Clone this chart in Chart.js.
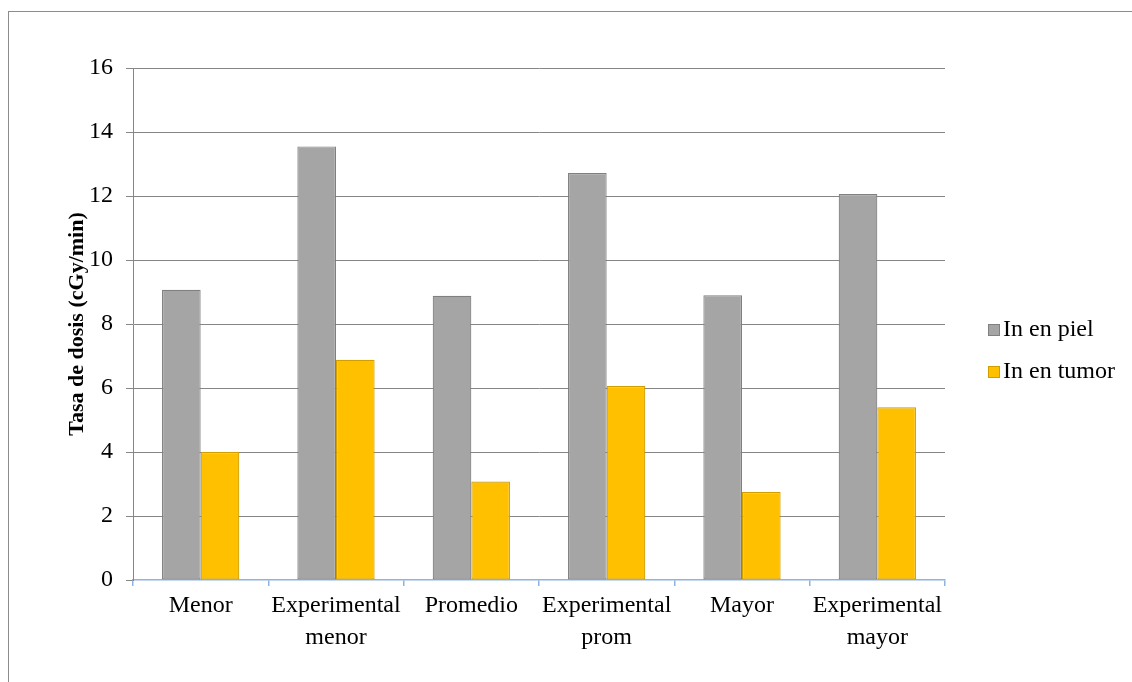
<!DOCTYPE html>
<html lang="es">
<head>
    <meta charset="UTF-8" />
    <script src="https://cdn.jsdelivr.net/npm/chart.js"></script>
    <title>Tasa de dosis</title>
    <style>
        body { margin: 0; background: #fff; }
        #marco {
            position: absolute; left: 0; top: 0; width: 1132px; height: 682px;
        }
        #borde {
            position: absolute; left: 8px; top: 11px; right: 0; bottom: 0;
            border-left: 1.5px solid #8c8c8c; border-top: 1.5px solid #8c8c8c;
        }
    </style>
</head>
<body>
    <div id="marco">
        <div id="borde"></div>
        <canvas id="graficaDosis"></canvas>
    </div>

    <script>
        const categorias = [
            'Menor',
            ['Experimental', 'menor'],
            'Promedio',
            ['Experimental', 'prom'],
            'Mayor',
            ['Experimental', 'mayor']
        ];
        const inEnPiel = [9.07, 13.55, 8.88, 12.72, 8.90, 12.06];
        const inEnTumor = [4.0, 6.88, 3.08, 6.06, 2.75, 5.40];
        const ejeY = { min: 0, max: 16, paso: 2 };

        const fuente = "'Liberation Serif', 'Times New Roman', serif";
        const gris = '#868686';
        const azul = '#8db3e2';

        // leyenda a la derecha, dibujada a mano para fijar su posición
        const leyendaDerecha = {
            id: 'leyendaDerecha',
            afterDraw(chart) {
                const c = chart.ctx;
                c.save();
                c.font = `24px ${fuente}`;
                c.textBaseline = 'middle';
                chart.data.datasets.forEach((ds, i) => {
                    const y = 330 + i * 42;
                    c.fillStyle = ds.backgroundColor;
                    c.fillRect(988, y - 6, 12, 12);
                    c.strokeStyle = ds.borderColor;
                    c.lineWidth = 1;
                    c.strokeRect(988.5, y - 5.5, 11, 11);
                    c.fillStyle = '#000';
                    c.fillText(ds.label, 1003, y);
                });
                c.restore();
            }
        };

        new Chart(document.getElementById('graficaDosis'), {
            type: 'bar',
            data: {
                labels: categorias,
                datasets: [
                    {
                        label: 'In en piel',
                        data: inEnPiel,
                        backgroundColor: '#a5a5a5',
                        borderColor: '#808080',
                        borderWidth: 1.2,
                        borderSkipped: false,
                        categoryPercentage: 0.571,
                        barPercentage: 1
                    },
                    {
                        label: 'In en tumor',
                        data: inEnTumor,
                        backgroundColor: '#ffc000',
                        borderColor: '#d19e00',
                        borderWidth: 1.2,
                        borderSkipped: false,
                        categoryPercentage: 0.571,
                        barPercentage: 1
                    }
                ]
            },
            options: {
                responsive: true,
                maintainAspectRatio: false,
                animation: false,
                layout: { padding: { top: 68, right: 187, left: 0, bottom: 0 } },
                plugins: {
                    legend: { display: false },
                    tooltip: { enabled: false }
                },
                scales: {
                    x: {
                        afterFit: scale => { scale.height = 102; },
                        grid: {
                            drawOnChartArea: false,
                            drawTicks: true,
                            tickLength: 6,
                            tickColor: azul,
                            lineWidth: 1.5
                        },
                        border: { color: azul, width: 1.5 },
                        ticks: {
                            color: '#000',
                            padding: 4,
                            maxRotation: 0,
                            font: { size: 24, family: fuente, lineHeight: 1.33 }
                        }
                    },
                    y: {
                        min: ejeY.min,
                        max: ejeY.max,
                        afterFit: scale => { scale.width = 133; },
                        grid: {
                            color: ctx => ctx.tick && ctx.tick.value === 0 ? 'rgba(0,0,0,0)' : gris,
                            tickColor: gris,
                            tickLength: 7,
                            lineWidth: 1
                        },
                        border: { color: gris, width: 1 },
                        ticks: {
                            stepSize: ejeY.paso,
                            color: '#000',
                            padding: 13,
                            font: { size: 24, family: fuente }
                        },
                        title: {
                            display: true,
                            text: 'Tasa de dosis (cGy/min)',
                            color: '#000',
                            padding: { top: 64, bottom: 0 },
                            font: { size: 22, weight: 'bold', family: fuente }
                        }
                    }
                }
            },
            plugins: [leyendaDerecha]
        });
    </script>
</body>
</html>
